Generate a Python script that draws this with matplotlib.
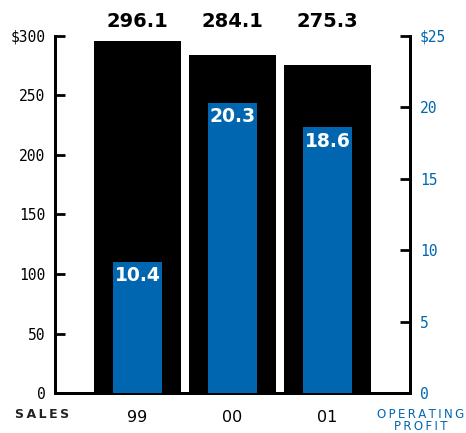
import matplotlib.pyplot as plt
import numpy as np

# data
years = ["99", "00", "01"]
sales = [296.1, 284.1, 275.3]
profit = [9.2, 20.3, 18.6]          # bar heights as drawn
profit_text = ["10.4", "20.3", "18.6"]
sales_ticks = [0, 50, 100, 150, 200, 250, 300]
sales_ticklabels = ["0", "50", "100", "150", "200", "250", "$300"]
profit_ticks = [0, 5, 10, 15, 20, 25]
profit_ticklabels = ["0", "5", "10", "15", "20", "$25"]

blue = "#0066b0"
tick_font = "DejaVu Sans Mono"

fig = plt.figure(figsize=(4.66, 4.33), dpi=100)
ax = fig.add_axes([55 / 466, 40 / 433, 355 / 466, 357 / 433])
ax2 = ax.twinx()

x = np.arange(len(years))
ax.bar(x, sales, width=0.916, color="black", zorder=2)
ax2.bar(x, profit, width=0.516, color=blue, zorder=3)

# sales values all sit on one line above the plot
for xi, v in zip(x, sales):
    ax.text(xi, 312, f"{v:.1f}", ha="center", va="center",
            fontsize=14, fontweight="bold", color="black", clip_on=False)
for xi, v, t in zip(x, profit, profit_text):
    ax2.text(xi, v - 0.3, t, ha="center", va="top",
             fontsize=13.5, fontweight="bold", color="white")

ax.set_xlim(-0.868, 2.868)
ax.set_ylim(0, 300)
ax2.set_ylim(0, 25)

ax.set_yticks(sales_ticks)
ax.set_yticklabels(sales_ticklabels, fontfamily=tick_font, fontsize=10.5)
ax2.set_yticks(profit_ticks)
ax2.set_yticklabels(profit_ticklabels, fontfamily=tick_font, fontsize=10.5, color=blue)

ax.set_xticks(x)
ax.set_xticklabels(years, fontsize=11.5)
ax.tick_params(axis="x", length=0, pad=12)
ax.tick_params(axis="y", direction="in", length=7, width=2, pad=7)
ax2.tick_params(axis="y", direction="in", length=7, width=2, pad=7)

for a in (ax, ax2):
    a.spines["top"].set_visible(False)
    for s in ("left", "right", "bottom"):
        a.spines[s].set_linewidth(2)

fig.text(42 / 466, 1 - 415 / 433, "S\u2009A\u2009L\u2009E\u2009S", ha="center", va="center",
         fontsize=9, fontweight="bold", color="#222222")
fig.text(421 / 466, 1 - 420 / 433, "O\u2009P\u2009E\u2009R\u2009A\u2009T\u2009I\u2009N\u2009G\nP\u2009R\u2009O\u2009F\u2009I\u2009T",
         ha="center", va="center", fontsize=8.5, color=blue, linespacing=0.9)

fig.savefig("out.png", dpi=100)
